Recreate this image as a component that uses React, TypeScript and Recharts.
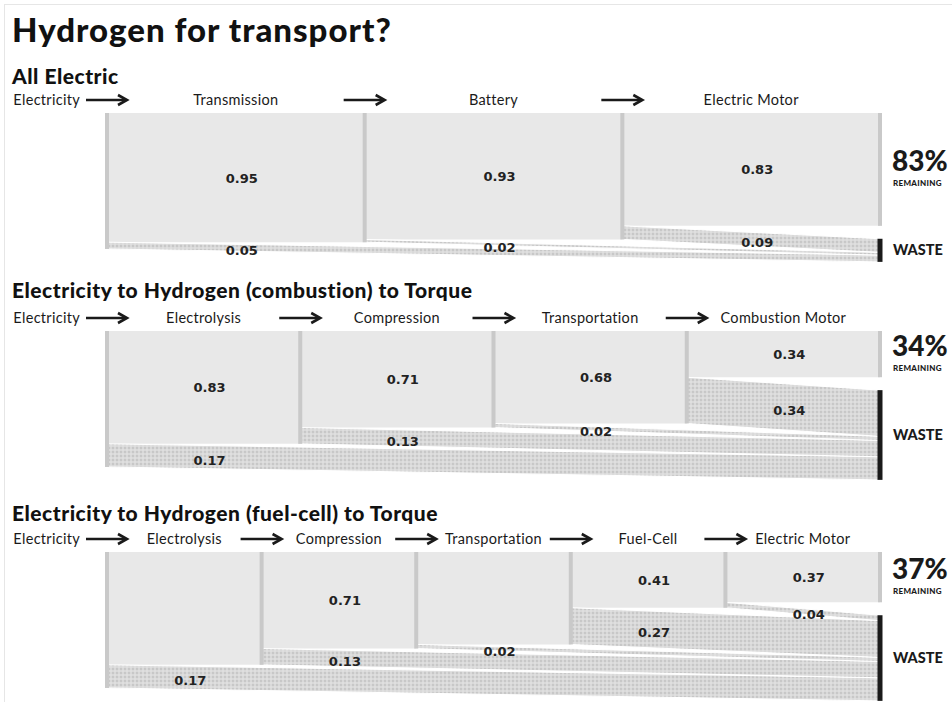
import React from "react";
import { ComposedChart, Area, XAxis, YAxis, ReferenceArea, ReferenceLine, ReferenceDot } from "recharts";

// stage names, value left after each stage, and the loss label shown for it
const allElectricSteps = ["Transmission", "Battery", "Electric Motor"];
const allElectricValues = [0.95, 0.93, 0.83];
const allElectricLosses = [0.05, 0.02, 0.09];
const allElectricShown = [true, true, true];

const combustionSteps = ["Electrolysis", "Compression", "Transportation", "Combustion Motor"];
const combustionValues = [0.83, 0.71, 0.68, 0.34];
const combustionLosses = [0.17, 0.13, 0.02, 0.34];
const combustionShown = [true, true, true, true];

const fuelCellSteps = ["Electrolysis", "Compression", "Transportation", "Fuel-Cell", "Electric Motor"];
const fuelCellValues = [0.83, 0.71, 0.68, 0.41, 0.37];
const fuelCellLosses = [0.17, 0.13, 0.02, 0.27, 0.04];
const fuelCellShown = [false, true, false, true, true];

const TITLE = "Hydrogen for transport?";
const SECTION_TITLES = [
  "All Electric",
  "Electricity to Hydrogen (combustion) to Torque",
  "Electricity to Hydrogen (fuel-cell) to Torque",
];

const W = 952;
const PLOT_L = 107;
const PLOT_R = 880;
const GAP = 0.095;
const Y_MAX = 1.14;
const AXIS_H = 28;
const UNIT_PX = 136;
const CHART_H = Math.round(AXIS_H + Y_MAX * UNIT_PX);

const HEAD_FONT = "Lato, 'Noto Sans', sans-serif";
const NUM_FONT = "'DejaVu Sans', Verdana, sans-serif";
const BLOCK = "#e8e8e8";
const BAR = "#c9c9c9";
const INK = "#1a1a1a";

function Arrow({ x, y }: { x: number; y: number }) {
  return (
    <g stroke={INK} strokeWidth={2.6} fill="none">
      <line x1={x - 21} y1={y} x2={x + 18} y2={y} />
      <path d={`M${x + 11},${y - 5} L${x + 20},${y} L${x + 11},${y + 5}`} strokeLinejoin="miter" />
    </g>
  );
}

function StepTick(props: any) {
  const { x, y, payload, steps } = props;
  const v = payload.value as number;
  if (Number.isInteger(v)) {
    return (
      <g>
        {v === 0 && (
          <text x={x - 27} y={y} textAnchor="end" fontFamily={HEAD_FONT} fontSize={14.5} letterSpacing={0.3} fill={INK}>
            Electricity
          </text>
        )}
        <Arrow x={x} y={y - 5} />
      </g>
    );
  }
  return (
    <text x={x} y={y} textAnchor="middle" fontFamily={HEAD_FONT} fontSize={14.5} letterSpacing={0.3} fill={INK}>
      {steps[Math.floor(v)]}
    </text>
  );
}

type FlowProps = {
  id: string;
  top: number;
  steps: string[];
  values: number[];
  losses: number[];
  shown: boolean[];
};

function Flow({ id, top, steps, values, losses, shown }: FlowProps) {
  const n = steps.length;
  const prev = (k: number) => (k === 0 ? 1 : values[k - 1]);
  const rest = values[n - 1];

  // each loss band leaves under its stage and drifts down into the waste bar
  const rows = Array.from({ length: n + 1 }, (_, i) => {
    const row: any = { x: i };
    losses.forEach((_, k) => {
      if (i === k) row[`w${k}`] = [values[k], prev(k)];
      if (i === n) row[`w${k}`] = [values[k] + GAP, prev(k) + GAP];
    });
    return row;
  });

  const ticks: number[] = [];
  for (let k = 0; k < n; k++) ticks.push(k, k + 0.5);

  const numText = (txt: string) => (p: any) => (
    <text x={p.cx + 6} y={p.cy + 5} textAnchor="middle" fontFamily={NUM_FONT} fontWeight="bold" fontSize={13} fill="#222">
      {txt}
    </text>
  );

  return (
    <div style={{ position: "absolute", left: 0, top }}>
      <ComposedChart
        width={W}
        height={CHART_H}
        data={rows}
        margin={{ top: 0, right: W - PLOT_R, bottom: 0, left: PLOT_L }}
      >
        <defs>
          <pattern id={`${id}-dots`} width={4} height={4} patternUnits="userSpaceOnUse">
            <rect width={4} height={4} fill="#d9d9d9" />
            <circle cx={1} cy={1} r={0.9} fill="#c0c0c0" />
            <circle cx={3} cy={3} r={0.7} fill="#ebebeb" />
          </pattern>
        </defs>
        <XAxis
          dataKey="x"
          type="number"
          orientation="top"
          domain={[0, n]}
          ticks={ticks}
          interval={0}
          height={AXIS_H}
          axisLine={false}
          tickLine={false}
          tick={(p: any) => <StepTick {...p} steps={steps} />}
        />
        <YAxis type="number" domain={[0, Y_MAX]} reversed hide />

        {values.map((v, k) => (
          <ReferenceArea key={`b${k}`} x1={k} x2={k + 1} y1={0} y2={v} fill={BLOCK} fillOpacity={1} stroke="none" />
        ))}

        {losses.map((_, k) => (
          <Area
            key={`w${k}`}
            dataKey={`w${k}`}
            type="linear"
            connectNulls
            stroke="#ffffff"
            strokeWidth={1}
            fill={`url(#${id}-dots)`}
            fillOpacity={1}
            dot={false}
            activeDot={false}
            isAnimationActive={false}
          />
        ))}

        {values.map((_, k) => (
          <ReferenceLine
            key={`s${k}`}
            segment={[{ x: k, y: 0 }, { x: k, y: prev(k) }]}
            stroke={BAR}
            strokeWidth={4}
          />
        ))}
        <ReferenceLine segment={[{ x: n, y: 0 }, { x: n, y: rest }]} stroke={BAR} strokeWidth={4} />
        <ReferenceLine segment={[{ x: n, y: rest + GAP }, { x: n, y: 1 + GAP }]} stroke={INK} strokeWidth={5} />

        {values.map((v, k) =>
          shown[k] ? <ReferenceDot key={`vl${k}`} x={k + 0.5} y={v / 2} r={0} shape={numText(v.toFixed(2))} /> : null
        )}
        {losses.map((l, k) => (
          <ReferenceDot
            key={`ll${k}`}
            x={k + 0.5}
            y={(values[k] + prev(k)) / 2 + (GAP * 0.5) / (n - k) + 0.02}
            r={0}
            shape={numText(l.toFixed(2))}
          />
        ))}

        <ReferenceDot
          x={n}
          y={rest / 2}
          r={0}
          shape={(p: any) => (
            <g fontFamily={HEAD_FONT} fill={INK} fontWeight={900}>
              <text x={p.cx + 12} y={p.cy + 2} fontSize={28}>
                {Math.round(rest * 100)}%
              </text>
              <text x={p.cx + 13} y={p.cy + 17} fontSize={8} letterSpacing={0.3}>
                REMAINING
              </text>
            </g>
          )}
        />
        <ReferenceDot
          x={n}
          y={(rest + 1) / 2 + GAP}
          r={0}
          shape={(p: any) => (
            <text x={p.cx + 13} y={p.cy + 5} fontFamily={HEAD_FONT} fontWeight={900} fontSize={14.5} fill={INK}>
              WASTE
            </text>
          )}
        />
      </ComposedChart>
    </div>
  );
}

export default function App() {
  return (
    <div
      style={{
        position: "absolute",
        left: 0,
        top: 0,
        width: W,
        height: 702,
        overflow: "hidden",
        background: "#ffffff",
      }}
    >
      <svg width={W} height={702} style={{ position: "absolute", left: 0, top: 0 }}>
        <rect x={4.5} y={4.5} width={W} height={702} fill="none" stroke="#e6e6e6" />
        <text x={12} y={42} fontFamily={HEAD_FONT} fontWeight={900} fontSize={33} letterSpacing={1} fill="#111">
          {TITLE}
        </text>
        <text x={12} y={84} fontFamily={HEAD_FONT} fontWeight={900} fontSize={21} letterSpacing={0.5} fill="#111">
          {SECTION_TITLES[0]}
        </text>
        <text x={12} y={298} fontFamily={HEAD_FONT} fontWeight={900} fontSize={21} letterSpacing={0.5} fill="#111">
          {SECTION_TITLES[1]}
        </text>
        <text x={12} y={521} fontFamily={HEAD_FONT} fontWeight={900} fontSize={21} letterSpacing={0.5} fill="#111">
          {SECTION_TITLES[2]}
        </text>
      </svg>
      <Flow
        id="ae"
        top={113 - AXIS_H}
        steps={allElectricSteps}
        values={allElectricValues}
        losses={allElectricLosses}
        shown={allElectricShown}
      />
      <Flow
        id="hc"
        top={331 - AXIS_H}
        steps={combustionSteps}
        values={combustionValues}
        losses={combustionLosses}
        shown={combustionShown}
      />
      <Flow
        id="hf"
        top={552 - AXIS_H}
        steps={fuelCellSteps}
        values={fuelCellValues}
        losses={fuelCellLosses}
        shown={fuelCellShown}
      />
    </div>
  );
}
